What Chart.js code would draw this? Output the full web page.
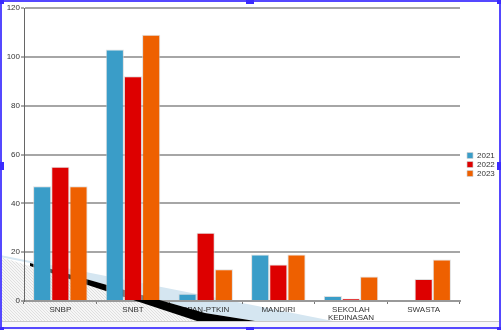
<!DOCTYPE html>
<html>
<head>
<meta charset="utf-8">
<script src="https://cdn.jsdelivr.net/npm/chart.js@4.4.1/dist/chart.umd.min.js"></script>
<style>
  html, body { margin: 0; padding: 0; background: #fff; }
  #frame { position: relative; width: 501px; height: 330px; overflow: hidden; background: #f7f7fb; }
  #chart { position: absolute; left: 0; top: 0; background: #fff; }
  #cut { position: absolute; left: 0; top: 321px; width: 501px; height: 1px; background: #c8c8c8; }
  .edge { position: absolute; background: #5548ff; }
  .handle { position: absolute; width: 8px; height: 8px; background: #3b2bff; }
</style>
</head>
<body>
<div id="frame">
  <canvas id="chart" width="501" height="321"></canvas>
  <div id="cut"></div>
  <div class="edge" style="left:0;top:0;width:501px;height:2px"></div>
  <div class="edge" style="left:0;top:0;width:2px;height:330px"></div>
  <div class="edge" style="left:499px;top:0;width:2px;height:330px"></div>
  <div class="edge" style="left:0;top:327px;width:501px;height:2px"></div>
  <div class="handle" style="left:-4px;top:-4px"></div>
  <div class="handle" style="left:246px;top:-4px"></div>
  <div class="handle" style="left:497px;top:-4px"></div>
  <div class="handle" style="left:-4px;top:162px"></div>
  <div class="handle" style="left:497px;top:162px"></div>
  <div class="handle" style="left:-4px;top:327px"></div>
  <div class="handle" style="left:246px;top:327px"></div>
  <div class="handle" style="left:497px;top:327px"></div>
</div>
<script>
// Données
const categories = ['SNBP', 'SNBT', 'SPAN-PTKIN', 'MANDIRI', ['SEKOLAH', 'KEDINASAN'], 'SWASTA'];
const years = ['2021', '2022', '2023'];
const values2021 = [47, 103, 3, 19, 2, 0];
const values2022 = [55, 92, 28, 15, 1, 9];
const values2023 = [47, 109, 13, 19, 10, 17];
const yMin = 0;
const yMax = 120;
const yStep = 20;

const colors = ['#3a9dc8', '#dd0000', '#ee6000'];

Chart.defaults.font.family = '"Liberation Sans", Arial, sans-serif';
Chart.defaults.font.size = 8;
Chart.defaults.color = '#333';

// Tache du document en bas à gauche (hachures, bande bleue, bande noire)
const artifact = {
    id: 'artifact',
    beforeDraw(chart) {
        const ctx = chart.ctx;
        ctx.save();
        ctx.beginPath();
        ctx.moveTo(0, 257);
        ctx.lineTo(30, 266);
        ctx.lineTo(200, 322);
        ctx.lineTo(0, 322);
        ctx.closePath();
        ctx.fillStyle = '#f6f6f6';
        ctx.fill();
        ctx.clip();
        ctx.strokeStyle = '#d6d6d6';
        ctx.lineWidth = 0.7;
        for (let x = -80; x < 220; x += 3) {
            ctx.beginPath();
            ctx.moveTo(x, 250);
            ctx.lineTo(x + 75, 325);
            ctx.stroke();
        }
        ctx.restore();

        ctx.save();
        ctx.beginPath();
        ctx.moveTo(0, 255);
        ctx.lineTo(333, 321);
        ctx.lineTo(255, 321);
        ctx.lineTo(205, 313);
        ctx.lineTo(30, 263);
        ctx.lineTo(0, 257);
        ctx.closePath();
        ctx.fillStyle = '#d5e6f1';
        ctx.fill();
        ctx.restore();
    },
    beforeDatasetsDraw(chart) {
        const ctx = chart.ctx;
        ctx.save();
        ctx.beginPath();
        ctx.moveTo(30, 263);
        ctx.lineTo(205, 313);
        ctx.lineTo(255, 321);
        ctx.lineTo(200, 322);
        ctx.lineTo(30, 266);
        ctx.closePath();
        ctx.fillStyle = '#000';
        ctx.fill();
        ctx.restore();
    }
};

new Chart(document.getElementById('chart'), {
    type: 'bar',
    data: {
        labels: categories,
        datasets: [
            { label: years[0], data: values2021, backgroundColor: colors[0] },
            { label: years[1], data: values2022, backgroundColor: colors[1] },
            { label: years[2], data: values2023, backgroundColor: colors[2] }
        ].map(ds => Object.assign(ds, {
            borderColor: 'rgba(210, 210, 210, 0.7)',
            borderWidth: 1,
            categoryPercentage: 0.75,
            barPercentage: 1
        }))
    },
    options: {
        responsive: false,
        animation: false,
        layout: { padding: { top: 8, left: 0, right: 0, bottom: 0 } },
        scales: {
            x: {
                grid: { drawOnChartArea: false, tickLength: 3, color: '#777' },
                border: { color: '#999', width: 2 },
                ticks: { padding: 1, maxRotation: 0, autoSkip: false, font: { lineHeight: 1.1 } },
                afterFit: scale => { scale.height = 20; }
            },
            y: {
                min: yMin,
                max: yMax,
                ticks: { stepSize: yStep, padding: 1 },
                grid: { color: '#a6a6a6', lineWidth: 2, tickLength: 3, tickColor: '#555', tickWidth: 1 },
                border: { color: '#666', width: 1 },
                afterFit: scale => { scale.width = 24; }
            },
            gap: {
                position: 'right',
                display: true,
                grid: { display: false },
                ticks: { display: false },
                border: { display: false },
                afterFit: scale => { scale.width = 6; }
            }
        },
        plugins: {
            legend: {
                position: 'right',
                maxWidth: 35,
                labels: {
                    boxWidth: 6,
                    boxHeight: 6,
                    padding: 1,
                    font: { size: 8 }
                }
            },
            tooltip: { enabled: false }
        }
    },
    plugins: [artifact]
});
</script>
</body>
</html>
